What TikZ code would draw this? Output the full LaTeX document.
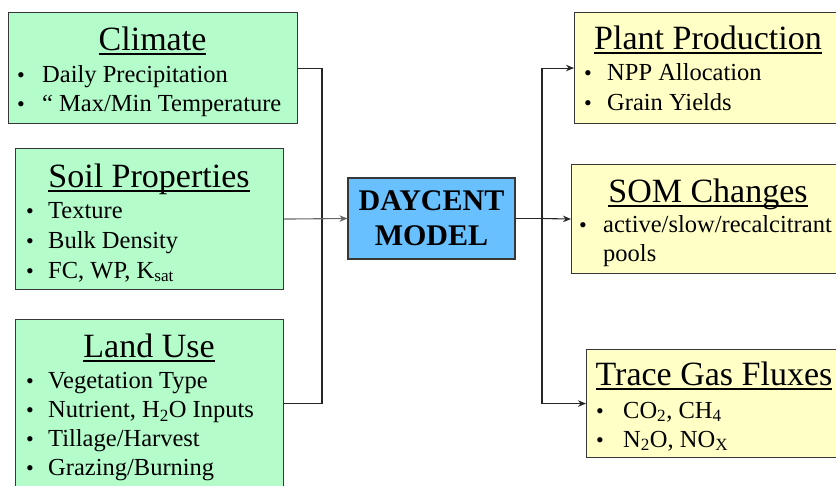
\documentclass[tikz,border=0pt]{standalone}
\usepackage{fontspec}
\setmainfont{Liberation Serif}
\usetikzlibrary{arrows.meta, positioning, calc}
\definecolor{inpgreen}{RGB}{180, 252, 202}
\definecolor{outyellow}{RGB}{255, 255, 198}
\definecolor{modblue}{RGB}{104, 192, 255}
\definecolor{edgegray}{RGB}{55, 55, 55}
\newsavebox{\ttlbox}
\newcommand{\boxtitle}[1]{\sbox{\ttlbox}{#1}\rlap{\rule[-4.8pt]{\wd\ttlbox}{1.6pt}}\usebox{\ttlbox}}

\begin{document}
\begin{tikzpicture}[x=1pt, y=-1pt,
  inbox/.style={draw=edgegray, line width=1.1pt, fill=inpgreen, anchor=north west, inner sep=0pt},
  outbox/.style={draw=edgegray, line width=1.1pt, fill=outyellow, anchor=north west, inner sep=0pt},
  modelbox/.style={draw=edgegray, line width=1.1pt, fill=modblue, align=center,
    font=\bfseries\fontsize{30}{35}\selectfont},
  ttl/.style={anchor=base, inner sep=0pt, font=\fontsize{34}{40}\selectfont},
  item/.style={anchor=base west, inner sep=0pt, font=\fontsize{24.5}{29}\selectfont},
  dot/.style={anchor=base, inner sep=0pt, font=\fontsize{22}{29}\selectfont},
  link/.style={draw=black!85, line width=1.1pt},
  feed/.style={link, -{Stealth[length=8pt, width=6.5pt]}}]
  \useasboundingbox (0,0) rectangle (836,485);
  \clip (0,0) rectangle (836,485);

  % Inputs
  \node[inbox, minimum width=289pt, minimum height=111pt] (climate) at (8,12) {};
  \node[ttl] (climttl) at (152.5,50) {\boxtitle{Climate}};
  \foreach \t [count=\k from 0] in {Daily Precipitation, “ Max/Min Temperature} {
    \node[dot] (climdot\k) at (21, 82+29*\k) {•};
    \node[item] (climitem\k) at (42, 82+29*\k) {\t};
  }

  \node[inbox, minimum width=268pt, minimum height=141pt] (soil) at (15,148) {};
  \node[ttl] (soilttl) at (149,187) {\boxtitle{Soil Properties}};
  \foreach \t [count=\k from 0] in {Texture, Bulk Density, {FC, WP, K\textsubscript{sat}}} {
    \node[dot] (soildot\k) at (30, 218+30*\k) {•};
    \node[item] (soilitem\k) at (48, 218+30*\k) {\t};
  }

  \node[inbox, minimum width=268pt, minimum height=167pt] (land) at (15,319) {};
  \node[ttl] (landttl) at (149,357) {\boxtitle{Land Use}};
  \foreach \t [count=\k from 0] in {Vegetation Type, {Nutrient, H\textsubscript{2}O Inputs},
      Tillage/Harvest, Grazing/Burning} {
    \node[dot] (landdot\k) at (30, 388+29.3*\k) {•};
    \node[item] (landitem\k) at (48, 388+29.3*\k) {\t};
  }

  % Model
  \node[modelbox, minimum width=167pt, minimum height=81pt] (model) at (431.5,218.5) {DAYCENT\\MODEL};

  % Outputs
  \node[outbox, minimum width=268pt, minimum height=111pt] (plant) at (574,12) {};
  \node[ttl] (plantttl) at (708,49) {\boxtitle{Plant Production}};
  \foreach \t [count=\k from 0] in {NPP Allocation, Grain Yields} {
    \node[dot] (plantdot\k) at (588, 80+30*\k) {•};
    \node[item] (plantitem\k) at (607, 80+30*\k) {\t};
  }

  \node[outbox, minimum width=271pt, minimum height=109pt] (som) at (571,164) {};
  \node[ttl] (somttl) at (708,202) {\boxtitle{SOM Changes}};
  \node[dot] (somdot) at (583,232) {•};
  \node[item] (somitem) at (603,232) {active/slow/recalcitrant};
  \node[item] (somitemb) at (603,261) {pools};

  \node[outbox, minimum width=256pt, minimum height=108pt] (trace) at (586,349) {};
  \node[ttl] (tracettl) at (714,385) {\boxtitle{Trace Gas Fluxes}};
  \foreach \t [count=\k from 0] in {{CO\textsubscript{2}, CH\textsubscript{4}},
      {N\textsubscript{2}O, NO\textsubscript{X}}} {
    \node[dot] (tracedot\k) at (600, 418+29*\k) {•};
    \node[item] (traceitem\k) at (623, 418+29*\k) {\t};
  }

  % Connectors
  \coordinate (lbus) at (322,218.5);
  \coordinate (rbus) at (542,218.5);
  \draw[link] (climate.east) -| (lbus) |- (land.east);
  \draw[feed, draw=black!60] (soil.east) -- (model.west);
  \draw[link] (model.east) -- (rbus);
  \draw[feed] (rbus) |- (plant.west);
  \draw[feed] (rbus) -- (som.west);
  \draw[feed] (rbus) |- (trace.west);
\end{tikzpicture}
\end{document}
